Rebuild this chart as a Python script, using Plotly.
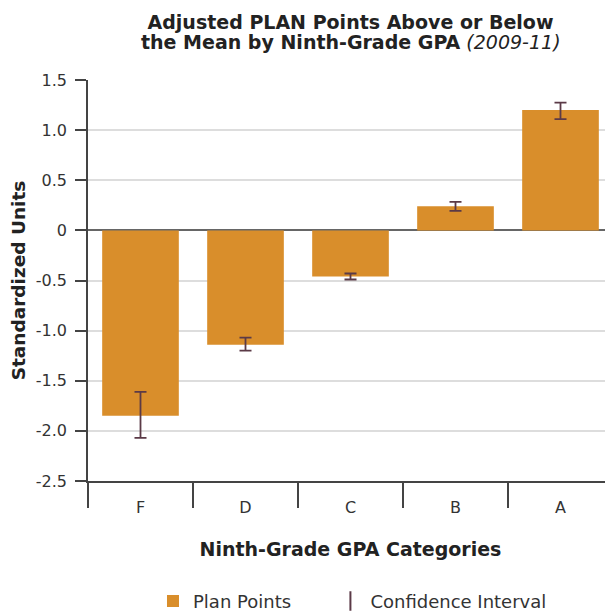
import plotly.graph_objects as go

categories = ["F", "D", "C", "B", "A"]
plan_points = [-1.85, -1.14, -0.46, 0.24, 1.20]
ci_plus = [0.24, 0.07, 0.03, 0.045, 0.075]
ci_minus = [0.22, 0.06, 0.03, 0.045, 0.09]
y_tickvals = [1.5, 1.0, 0.5, 0, -0.5, -1.0, -1.5, -2.0, -2.5]
y_ticktext = ["1.5", "1.0", "0.5", "0", "-0.5", "-1.0", "-1.5", "-2.0", "-2.5"]
title_line1 = "Adjusted PLAN Points Above or Below"
title_line2 = "the Mean by Ninth-Grade GPA"
title_years = "(2009-11)"
legend_bar = "Plan Points"
legend_ci = "Confidence Interval"

FONT = "DejaVu Sans"
BAR = "#D98E2B"
ERR = "#5B3A47"

W, H = 605, 603
L, T, B = 80, 72, 130
PH = H - T - B

fig = go.Figure()
fig.add_trace(go.Bar(
    x=categories, y=plan_points, name=legend_bar + "\u00a0" * 6,
    marker=dict(color=BAR, line=dict(width=0)),
    error_y=dict(type="data", symmetric=False, array=ci_plus, arrayminus=ci_minus,
                 color=ERR, thickness=1.8, width=6),
))
fig.add_trace(go.Scatter(
    x=[None], y=[None], mode="markers", name=legend_ci,
    marker=dict(symbol="line-ns-open", size=14, line=dict(width=2, color=ERR), color=ERR),
))

fig.update_layout(
    width=W, height=H,
    margin=dict(l=L, r=0, t=T, b=B, autoexpand=False),
    paper_bgcolor="white", plot_bgcolor="white",
    font=dict(family=FONT, size=16, color="#333333"),
    bargap=0.27,
    title=dict(
        text="<b>" + title_line1 + "</b>",
        x=0.5, xref="paper", xanchor="center",
        y=1 - 14 / H, yref="container", yanchor="middle",
        font=dict(family=FONT, size=19, color="#222222"),
    ),
    annotations=[dict(
        text="<b>" + title_line2 + "</b> <i>" + title_years + "</i>",
        x=0.5, xref="paper", xanchor="center",
        y=1 + (T - 34) / PH, yref="paper", yanchor="middle",
        showarrow=False, font=dict(family=FONT, size=19, color="#222222"),
    )],
    showlegend=True,
    legend=dict(orientation="h", x=0.1238, xanchor="left", y=-0.300, yanchor="middle",
                font=dict(family=FONT, size=18, color="#333333"),
                itemwidth=30, tracegroupgap=0),
)
fig.update_xaxes(
    type="category", range=[-0.5, 4.5],
    showline=True, linecolor="#444444", linewidth=1.5,
    ticks="outside", tickson="boundaries", ticklen=25, tickcolor="#444444", tickwidth=1.5,
    ticklabelstandoff=11,
    tickfont=dict(family=FONT, size=16, color="#333333"),
    showgrid=False,
    title=dict(text="<b>Ninth-Grade GPA Categories</b>", standoff=27,
               font=dict(family=FONT, size=19, color="#222222")),
)
fig.update_yaxes(
    range=[-2.5, 1.5], tickvals=y_tickvals, ticktext=y_ticktext,
    showline=True, linecolor="#444444", linewidth=1.5,
    ticks="outside", ticklen=11, tickcolor="#444444", tickwidth=1.5,
    ticklabelstandoff=5,
    showgrid=True, gridcolor="#DDDDDD", gridwidth=1.5,
    zeroline=True, zerolinecolor="#666666", zerolinewidth=2,
    tickfont=dict(family=FONT, size=16, color="#333333"),
    title=dict(text="<b>Standardized Units</b>", standoff=10,
               font=dict(family=FONT, size=18.5, color="#222222")),
)

fig.write_html("out.html",
               default_width=f"{W}px", default_height=f"{H}px",
               post_script="document.documentElement.style.overflow='hidden';document.body.style.overflow='hidden';")
